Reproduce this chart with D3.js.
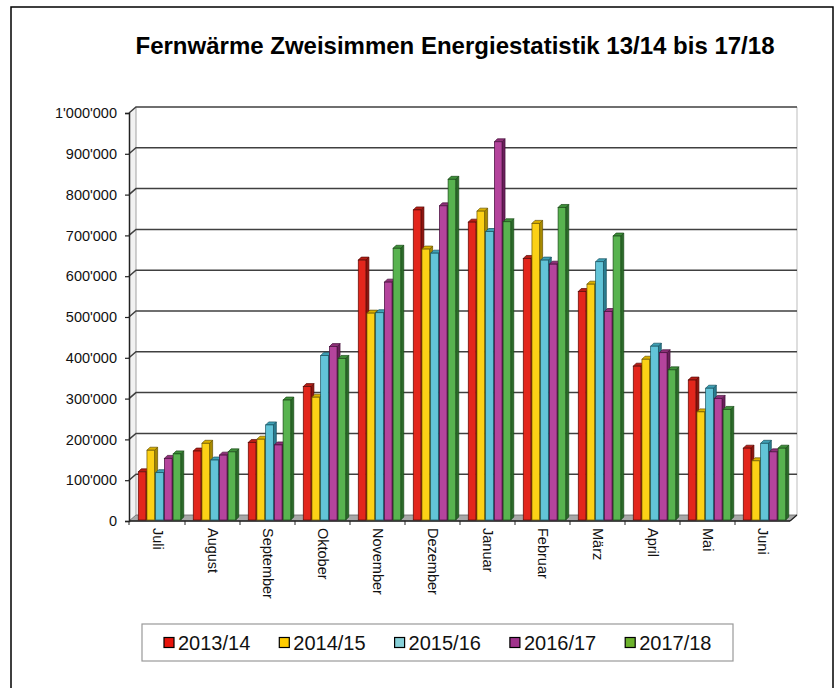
<!DOCTYPE html>
<html><head><meta charset="utf-8">
<script src="https://cdn.jsdelivr.net/npm/d3@7"></script>
<style>body{margin:0;background:#fff}svg{display:block}text{font-family:"Liberation Sans",Arial,sans-serif}</style>
</head><body>
<svg id="c" width="839" height="688"></svg>
<script>
const months = ["Juli","August","September","Oktober","November","Dezember","Januar","Februar","März","April","Mai","Juni"];
const seriesNames = ["2013/14","2014/15","2015/16","2016/17","2017/18"];
const s2013 = [118000,169000,190000,327000,637000,760000,730000,641000,560000,377000,343000,176000];
const s2014 = [171000,188000,198000,301000,507000,664000,757000,727000,578000,394000,265000,145000];
const s2015 = [116000,147000,233000,403000,508000,654000,707000,637000,633000,426000,323000,188000];
const s2016 = [151000,159000,184000,425000,583000,770000,927000,627000,511000,410000,298000,167000];
const s2017 = [162000,167000,294000,396000,666000,835000,731000,766000,696000,368000,271000,176000];
const yTicks = [0,100000,200000,300000,400000,500000,600000,700000,800000,900000,1000000];
const tickLabels = ["0","100'000","200'000","300'000","400'000","500'000","600'000","700'000","800'000","900'000","1'000'000"];
const title = "Fernwärme Zweisimmen Energiestatistik 13/14 bis 17/18";

const seriesValues = [s2013,s2014,s2015,s2016,s2017];
const faces = [
  {front:"#e3261c", side:"#8e1510", top:"#b51e16", edge:"#5a0a06", legend:"#e8140c"},
  {front:"#fcd116", side:"#a88a00", top:"#d9b000", edge:"#6a5500", legend:"#ffcc00"},
  {front:"#62c4d8", side:"#2a7d90", top:"#3fa0b5", edge:"#15505e", legend:"#88d0d8"},
  {front:"#b4449c", side:"#6b1f5c", top:"#8e3079", edge:"#45103a", legend:"#a0338c"},
  {front:"#58b34f", side:"#2c6b2a", top:"#3f8f3a", edge:"#1a4a18", legend:"#6cb22c"}
];

const svg = d3.select("#c");
const X0 = 129, X1 = 790, Y0 = 521, Y1 = 113, DX = 7, DY = -6;

// frame
svg.append("path").attr("d",`M11,690V7H833V690`).attr("fill","none").attr("stroke","#000").attr("stroke-width",1.5);

svg.append("text").attr("x",455).attr("y",45).attr("text-anchor","middle").attr("dominant-baseline","central")
  .attr("font-size",24).attr("font-weight","bold").text(title);

const x = d3.scaleBand().domain(months).range([X0+1, X1]);
const y = d3.scaleLinear().domain([0,1000000]).range([Y0, Y1]);
const yBar = d3.scaleLinear().domain([0,1000000]).range([Y0-1, Y1-1]);
const bw = x.bandwidth();
const xs = d3.scaleBand().domain(seriesNames).range([bw*0.15, bw*0.15+42.5]).paddingInner(0.12);

// left wall
svg.append("path").attr("d",`M${X0},${Y0}L${X0+DX},${Y0+DY}V${Y1+DY}L${X0},${Y1}Z`).attr("fill","#f2f2f2").attr("stroke","none");
svg.append("line").attr("x1",X0+DX).attr("x2",X0+DX).attr("y1",Y1+DY).attr("y2",Y0+DY).attr("stroke","#b0b0b0").attr("stroke-width",1.2);
// right back edge
svg.append("line").attr("x1",X1+DX).attr("x2",X1+DX).attr("y1",Y1+DY).attr("y2",Y0+DY).attr("stroke","#c8c8c8").attr("stroke-width",1.2);
// floor
svg.append("path").attr("d",`M${X0},${Y0}L${X1},${Y0}L${X1+DX},${Y0+DY}L${X0+DX},${Y0+DY}Z`).attr("fill","#a8a8a8").attr("stroke","#666").attr("stroke-width",0.8);

// gridlines
yTicks.forEach(t=>{
  if(t===0) return;
  const yy = y(t);
  svg.append("path").attr("d",`M${X0},${yy}L${X0+DX},${yy+DY}H${X1+DX}`).attr("fill","none").attr("stroke","#404040").attr("stroke-width",1.5);
});

// y axis
const yAxis = d3.axisLeft(y).tickValues(yTicks).tickSize(4).tickFormat((d,i)=>tickLabels[i]);
const ga = svg.append("g").attr("transform",`translate(${X0},0)`).call(yAxis);
ga.select(".domain").attr("stroke","#222").attr("stroke-width",1.5);
ga.selectAll(".tick line").attr("stroke","#222").attr("stroke-width",1.2);
ga.selectAll(".tick text").attr("font-size",14.5).attr("fill","#111").attr("x",-12).attr("font-family","Liberation Sans, Arial, sans-serif");

// x axis front line + ticks
svg.append("line").attr("x1",X0).attr("x2",X1).attr("y1",Y0).attr("y2",Y0).attr("stroke","#222").attr("stroke-width",1.5);
svg.append("line").attr("x1",X1).attr("x2",X1+DX).attr("y1",Y0).attr("y2",Y0+DY).attr("stroke","#222").attr("stroke-width",1.2);
months.forEach((m,i)=>{
  const bx = x(m);
  if(i>0) svg.append("line").attr("x1",bx).attr("x2",bx).attr("y1",Y0).attr("y2",Y0+4).attr("stroke","#222").attr("stroke-width",1);
});
svg.append("line").attr("x1",X0).attr("x2",X0).attr("y1",Y0).attr("y2",Y0+4).attr("stroke","#222");

// bars
const D = 3;
const gb = svg.append("g");
months.forEach((m,i)=>{
  seriesNames.forEach((s,k)=>{
    const v = seriesValues[k][i];
    const bx = x(m) + xs(s), w = xs.bandwidth();
    const top = yBar(v), bot = yBar(0);
    const f = faces[k];
    gb.append("path").attr("d",`M${bx+w},${top}L${bx+w+D},${top-D}V${bot-D}L${bx+w},${bot}Z`)
      .attr("fill",f.side).attr("stroke",f.edge).attr("stroke-width",0.7);
    gb.append("path").attr("d",`M${bx},${top}L${bx+D},${top-D}H${bx+w+D}L${bx+w},${top}Z`)
      .attr("fill",f.top).attr("stroke",f.edge).attr("stroke-width",0.7);
    gb.append("rect").attr("x",bx).attr("y",top).attr("width",w).attr("height",bot-top)
      .attr("fill",f.front).attr("stroke",f.edge).attr("stroke-width",0.7);
  });
});

// month labels
months.forEach(m=>{
  const cx = x(m) + bw/2;
  svg.append("text").attr("transform",`translate(${cx},528) rotate(90)`).attr("text-anchor","start")
    .attr("dominant-baseline","central").attr("font-size",14.5).attr("fill","#111").text(m);
});

// legend
svg.append("rect").attr("x",142).attr("y",624).attr("width",591).attr("height",37).attr("fill","#fff").attr("stroke","#999").attr("stroke-width",1.2);
seriesNames.forEach((s,k)=>{
  const lx = 164 + k*115.3;
  svg.append("rect").attr("x",lx).attr("y",637.5).attr("width",10).attr("height",10).attr("fill",faces[k].legend).attr("stroke","#000").attr("stroke-width",1.2);
  svg.append("text").attr("x",lx+14).attr("y",643).attr("dominant-baseline","central").attr("font-size",20).attr("fill","#111").text(s);
});
</script>
</body></html>
